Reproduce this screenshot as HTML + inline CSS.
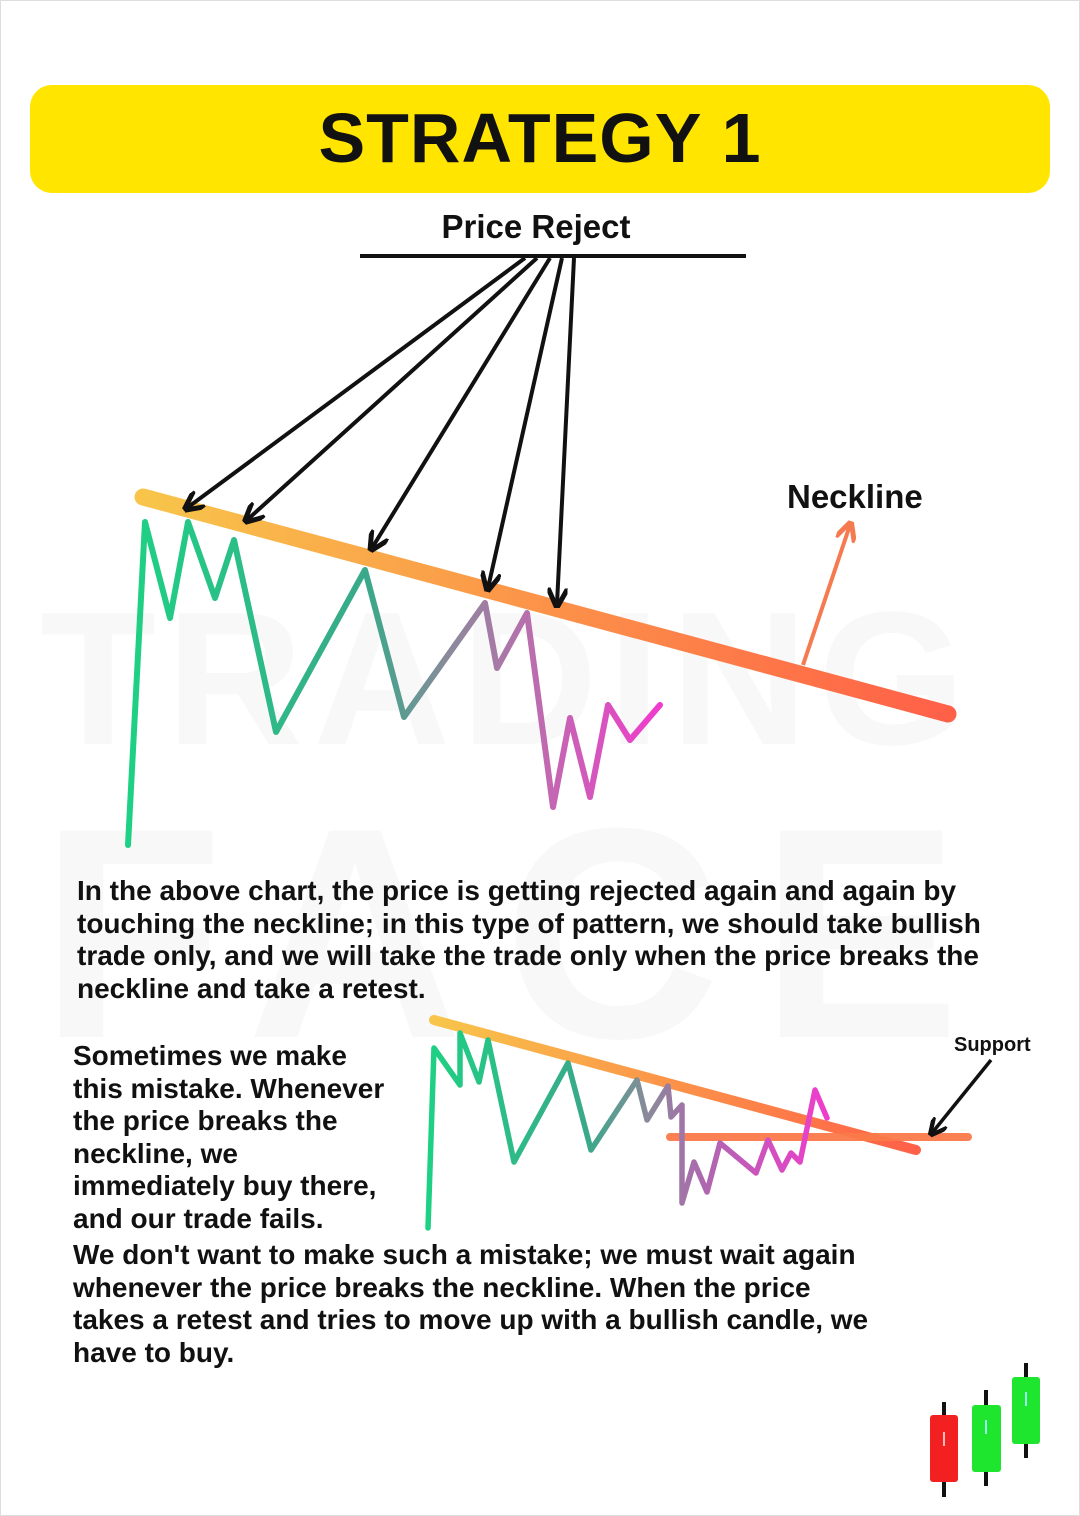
<!DOCTYPE html>
<html><head><meta charset="utf-8"><style>
html,body{margin:0;padding:0;background:#fff}
body{width:1080px;height:1516px;position:relative;overflow:hidden;font-family:"Liberation Sans",sans-serif}
.bar{position:absolute;left:30px;top:85px;width:1020px;height:108px;background:#ffe500;border-radius:22px}
.title{position:absolute;left:0;width:1080px;top:98px;text-align:center;font-weight:bold;font-size:70px;letter-spacing:1px;color:#111}
.t{position:absolute;font-weight:bold;font-size:28px;line-height:32.5px;color:#111;margin:0;white-space:nowrap}
.lbl{position:absolute;font-weight:bold;color:#111}
.wm{position:absolute;font-weight:bold;color:#f8f8f8;font-size:190px;letter-spacing:10px}
</style></head><body>
<div style="position:absolute;inset:0;border:1px solid #ddd;box-sizing:border-box"></div>
<div class="wm" style="left:40px;top:570px">TRADING</div>
<div class="wm" style="left:40px;top:760px;font-size:300px;letter-spacing:40px">FACE</div>
<div class="bar"></div>
<div class="title">STRATEGY 1</div>
<div class="lbl" style="left:360px;width:352px;text-align:center;top:208px;font-size:33px">Price Reject</div>
<div class="lbl" style="left:787px;top:478px;font-size:33px">Neckline</div>
<div class="lbl" style="left:954px;top:1034px;font-size:20px">Support</div>
<svg width="1080" height="1516" style="position:absolute;left:0;top:0">
<defs>
<linearGradient id="nk" x1="0" x2="1"><stop offset="0" stop-color="#f8c54a"/><stop offset="1" stop-color="#ff6048"/></linearGradient>
<linearGradient id="pr" x1="128" x2="660" gradientUnits="userSpaceOnUse"><stop offset="0" stop-color="#1ed184"/><stop offset="0.45" stop-color="#3aa88a"/><stop offset="0.6" stop-color="#8a8a9a"/><stop offset="0.78" stop-color="#c06ab0"/><stop offset="1" stop-color="#f03ccc"/></linearGradient>
<linearGradient id="pr2" x1="428" x2="827" gradientUnits="userSpaceOnUse"><stop offset="0" stop-color="#1ed184"/><stop offset="0.4" stop-color="#3aa88a"/><stop offset="0.55" stop-color="#8a8a9a"/><stop offset="0.7" stop-color="#b066b0"/><stop offset="1" stop-color="#f03ccc"/></linearGradient>
<marker id="ah" viewBox="0 0 10 10" refX="8" refY="5" markerWidth="5" markerHeight="5" orient="auto"><path d="M0,0 L10,5 L0,10" fill="none" stroke="#111" stroke-width="2.5"/></marker>
<marker id="ao" viewBox="0 0 10 10" refX="8" refY="5" markerWidth="5" markerHeight="5" orient="auto"><path d="M0,0 L10,5 L0,10" fill="none" stroke="#f57a50" stroke-width="2.5"/></marker>
</defs>
<line x1="360" y1="256" x2="746" y2="256" stroke="#111" stroke-width="4"/>
<line x1="143" y1="497" x2="948" y2="714" stroke="url(#nk)" stroke-width="17" stroke-linecap="round"/>
<polyline fill="none" stroke="url(#pr)" stroke-width="6" stroke-linejoin="round" stroke-linecap="round" points="128,845 145,522 170,618 188,522 215,598 234,540 276,732 365,570 404,717 485,603 497,668 527,613 553,807 570,718 590,797 608,705 630,740 660,705"/>
<g stroke="#111" stroke-width="4" fill="none" marker-end="url(#ah)">
<line x1="525" y1="258" x2="187" y2="508"/>
<line x1="537" y1="258" x2="247" y2="520"/>
<line x1="550" y1="258" x2="372" y2="548"/>
<line x1="562" y1="258" x2="488" y2="588"/>
<line x1="574" y1="258" x2="557" y2="604"/>
</g>
<line x1="803" y1="665" x2="850" y2="525" stroke="#f57a50" stroke-width="4" marker-end="url(#ao)"/>
<line x1="434" y1="1020" x2="916" y2="1150" stroke="url(#nk)" stroke-width="10" stroke-linecap="round"/>
<line x1="670" y1="1137" x2="968" y2="1137" stroke="#fb7a4a" stroke-width="8" stroke-linecap="round" opacity="0.95"/>
<polyline fill="none" stroke="url(#pr2)" stroke-width="5.5" stroke-linejoin="round" stroke-linecap="round" points="428,1228 434,1048 460,1085 460,1033 479,1082 488,1040 514,1162 568,1063 591,1150 637,1080 647,1120 668,1086 671,1117 682,1105 682,1203 694,1162 707,1192 720,1143 756,1173 768,1140 782,1170 791,1153 800,1162 815,1090 827,1118"/>
<line x1="991" y1="1060" x2="932" y2="1133" stroke="#111" stroke-width="3.5" marker-end="url(#ah)"/>
<g stroke="#111" stroke-width="4">
<line x1="944" y1="1402" x2="944" y2="1497"/><line x1="986" y1="1390" x2="986" y2="1486"/><line x1="1026" y1="1363" x2="1026" y2="1458"/>
</g>
<rect x="930" y="1415" width="28" height="67" rx="3" fill="#f22020"/>
<rect x="972" y="1405" width="29" height="67" rx="3" fill="#1ee62e"/>
<rect x="1012" y="1377" width="28" height="67" rx="3" fill="#1ee62e"/>
<g stroke="#9fe" stroke-width="2"><line x1="944" y1="1432" x2="944" y2="1446" stroke="#fbb"/><line x1="986" y1="1420" x2="986" y2="1434"/><line x1="1026" y1="1392" x2="1026" y2="1406"/></g>
</svg>
<p class="t" style="left:77px;top:875px">In the above chart, the price is getting rejected again and again by<br>touching the neckline; in this type of pattern, we should take bullish<br>trade only, and we will take the trade only when the price breaks the<br>neckline and take a retest.</p>
<p class="t" style="left:73px;top:1040px">Sometimes we make<br>this mistake. Whenever<br>the price breaks the<br>neckline, we<br>immediately buy there,<br>and our trade fails.</p>
<p class="t" style="left:73px;top:1239px">We don't want to make such a mistake; we must wait again<br>whenever the price breaks the neckline. When the price<br>takes a retest and tries to move up with a bullish candle, we<br>have to buy.</p>
</body></html>
